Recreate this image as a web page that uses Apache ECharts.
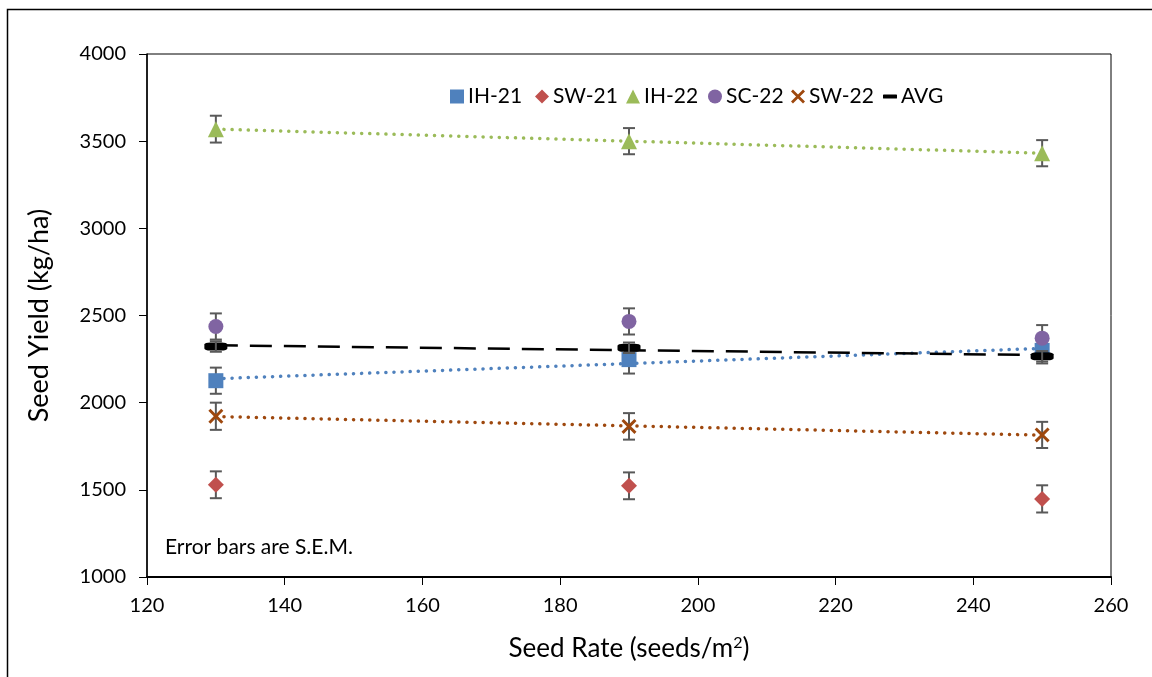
<!DOCTYPE html>
<html>
<head>
<meta charset="utf-8">
<script src="https://cdn.jsdelivr.net/npm/echarts@6/dist/echarts.min.js"></script>
<style>
html,body{margin:0;padding:0;background:#fff;}
#chart{width:1152px;height:677px;}
</style>
</head>
<body>
<div id="chart"></div>
<script>
// ---- data ----
const seedRates = [130, 190, 250];
const xTicks = [120, 140, 160, 180, 200, 220, 240, 260];
const yTicks = [1000, 1500, 2000, 2500, 3000, 3500, 4000];

const ih21 = [2126, 2247, 2300];
const sw21 = [1529, 1523, 1448];
const ih22 = [3569, 3500, 3431];
const sc22 = [2437, 2466, 2370];
const sw22 = [1922, 1864, 1815];
const avg  = [2322, 2315, 2266];

const ih21Err = [75, 80, 75];
const sw21Err = [77, 77, 78];
const ih22Err = [77, 75, 75];
const sc22Err = [75, 75, 75];
const sw22Err = [78, 76, 75];
const avgErr  = [30, 30, 30];

const names = ['IH-21', 'SW-21', 'IH-22', 'SC-22', 'SW-22', 'AVG'];
const colors = ['#4F81BD', '#C0504D', '#9BBB59', '#8064A2', '#9E480E', '#000000'];
// ---- end data ----

const FONT = 'Lato';
const values = [ih21, sw21, ih22, sc22, sw22, avg];
const errs = [ih21Err, sw21Err, ih22Err, sc22Err, sw22Err, avgErr];
const hasTrend = [true, false, true, false, true, true];
const legendLeft = [450, 535, 626, 708, 791, 883];

const xPath = 'path://M0,1.4L1.4,0L5,3.6L8.6,0L10,1.4L6.4,5L10,8.6L8.6,10L5,6.4L1.4,10L0,8.6L3.6,5Z';
const symbols = ['rect', 'diamond', 'triangle', 'circle', xPath, 'roundRect'];
const symbolSizes = [15, 16, 16, 15, 15, [23, 8]];
const legendIcons = [
  'path://M0,0L10,0L10,10L0,10Z',
  'path://M5,0L10,5L5,10L0,5Z',
  'path://M5,0L10,10L0,10Z',
  'circle',
  xPath,
  'path://M1,0L19,0Q20,0 20,1L20,5Q20,6 19,6L1,6Q0,6 0,5L0,1Q0,0 1,0Z'
];

function linFit(xs, ys) {
  const n = xs.length;
  const mx = xs.reduce((a, b) => a + b, 0) / n;
  const my = ys.reduce((a, b) => a + b, 0) / n;
  let sxy = 0, sxx = 0;
  for (let i = 0; i < n; i++) { sxy += (xs[i] - mx) * (ys[i] - my); sxx += (xs[i] - mx) ** 2; }
  const b = sxy / sxx, a = my - b * mx;
  return [[xs[0], a + b * xs[0]], [xs[n - 1], a + b * xs[n - 1]]];
}

const series = [];
names.forEach((nm, k) => {
  if (hasTrend[k]) {
    const isAvg = nm === 'AVG';
    series.push({
      type: 'line',
      data: linFit(seedRates, values[k]),
      showSymbol: false,
      silent: true,
      z: 2,
      lineStyle: isAvg
        ? { color: '#000', width: 2.5, type: [22, 12] }
        : { color: colors[k], width: 3.5, type: [0.1, 8], cap: 'round' }
    });
  }
});
names.forEach((nm, k) => {
  series.push({
    name: nm,
    type: 'scatter',
    data: seedRates.map((x, i) => [x, values[k][i]]),
    symbol: symbols[k],
    symbolSize: symbolSizes[k],
    itemStyle: { color: colors[k], opacity: 1 },
    z: 4
  });
});
names.forEach((nm, k) => {
  series.push({
    type: 'custom',
    silent: true,
    z: nm === 'AVG' ? 5 : 3,
    data: seedRates.map((x, i) => [x, values[k][i], errs[k][i]]),
    renderItem: function (params, api) {
      const x = api.value(0), y = api.value(1), e = api.value(2);
      const t = api.coord([x, y + e]);
      const b = api.coord([x, y - e]);
      const hw = 6;
      const st = { stroke: '#595959', lineWidth: 2 };
      return {
        type: 'group',
        children: [
          { type: 'line', shape: { x1: t[0], y1: t[1], x2: b[0], y2: b[1] }, style: st },
          { type: 'line', shape: { x1: t[0] - hw, y1: t[1], x2: t[0] + hw, y2: t[1] }, style: st },
          { type: 'line', shape: { x1: b[0] - hw, y1: b[1], x2: b[0] + hw, y2: b[1] }, style: st }
        ]
      };
    }
  });
});

const legends = names.map((n, k) => ({
  data: [{ name: n, icon: legendIcons[k] }],
  left: legendLeft[k], top: 86,
  padding: 0,
  itemWidth: 14, itemHeight: 14, itemGap: 0,
  symbolKeepAspect: true,
  textStyle: { fontFamily: FONT, fontSize: 21, color: '#000', padding: [0, 0, 0, -1] }
}));

const chart = echarts.init(document.getElementById('chart'), null, { renderer: 'canvas' });
chart.setOption({
  animation: false,
  backgroundColor: '#fff',
  textStyle: { fontFamily: FONT },
  grid: { left: 147, right: 41, top: 54, bottom: 100, show: true, borderColor: '#000', borderWidth: 1 },
  legend: legends,
  xAxis: {
    type: 'value',
    min: xTicks[0], max: xTicks[xTicks.length - 1], interval: 20,
    name: 'Seed Rate (seeds/m{sup|2})',
    nameLocation: 'middle', nameGap: 58,
    nameTextStyle: {
      fontFamily: FONT, fontSize: 26, color: '#000',
      rich: { sup: { fontSize: 16, verticalAlign: 'top', padding: [0, 0, 12, 0], fontFamily: FONT, color: '#000' } }
    },
    axisLine: { lineStyle: { color: '#000', width: 2 } },
    axisTick: { show: true, length: 8, lineStyle: { color: '#000', width: 1 } },
    axisLabel: { fontFamily: FONT, fontSize: 20, color: '#000', margin: 19, formatter: v => String(v) },
    splitLine: { show: false }
  },
  yAxis: {
    type: 'value',
    min: yTicks[0], max: yTicks[yTicks.length - 1], interval: 500,
    name: 'Seed Yield (kg/ha)',
    nameLocation: 'middle', nameGap: 94,
    nameTextStyle: { fontFamily: FONT, fontSize: 27, color: '#000' },
    axisLine: { show: true, lineStyle: { color: '#000', width: 1.5 } },
    axisTick: { show: true, length: 8, lineStyle: { color: '#000', width: 1 } },
    axisLabel: { fontFamily: FONT, fontSize: 20, color: '#000', margin: 21, formatter: v => String(v) },
    splitLine: { show: false }
  },
  graphic: [
    { type: 'rect', silent: true, shape: { x: 7.5, y: 9.5, width: 1400, height: 900 },
      style: { fill: 'none', stroke: '#000', lineWidth: 1.5 }, z: 100 },
    { type: 'text', left: 165, top: 537, silent: true,
      style: { text: 'Error bars are S.E.M.', font: '21px ' + FONT, fill: '#000' } }
  ],
  series: series
});
</script>
</body>
</html>
